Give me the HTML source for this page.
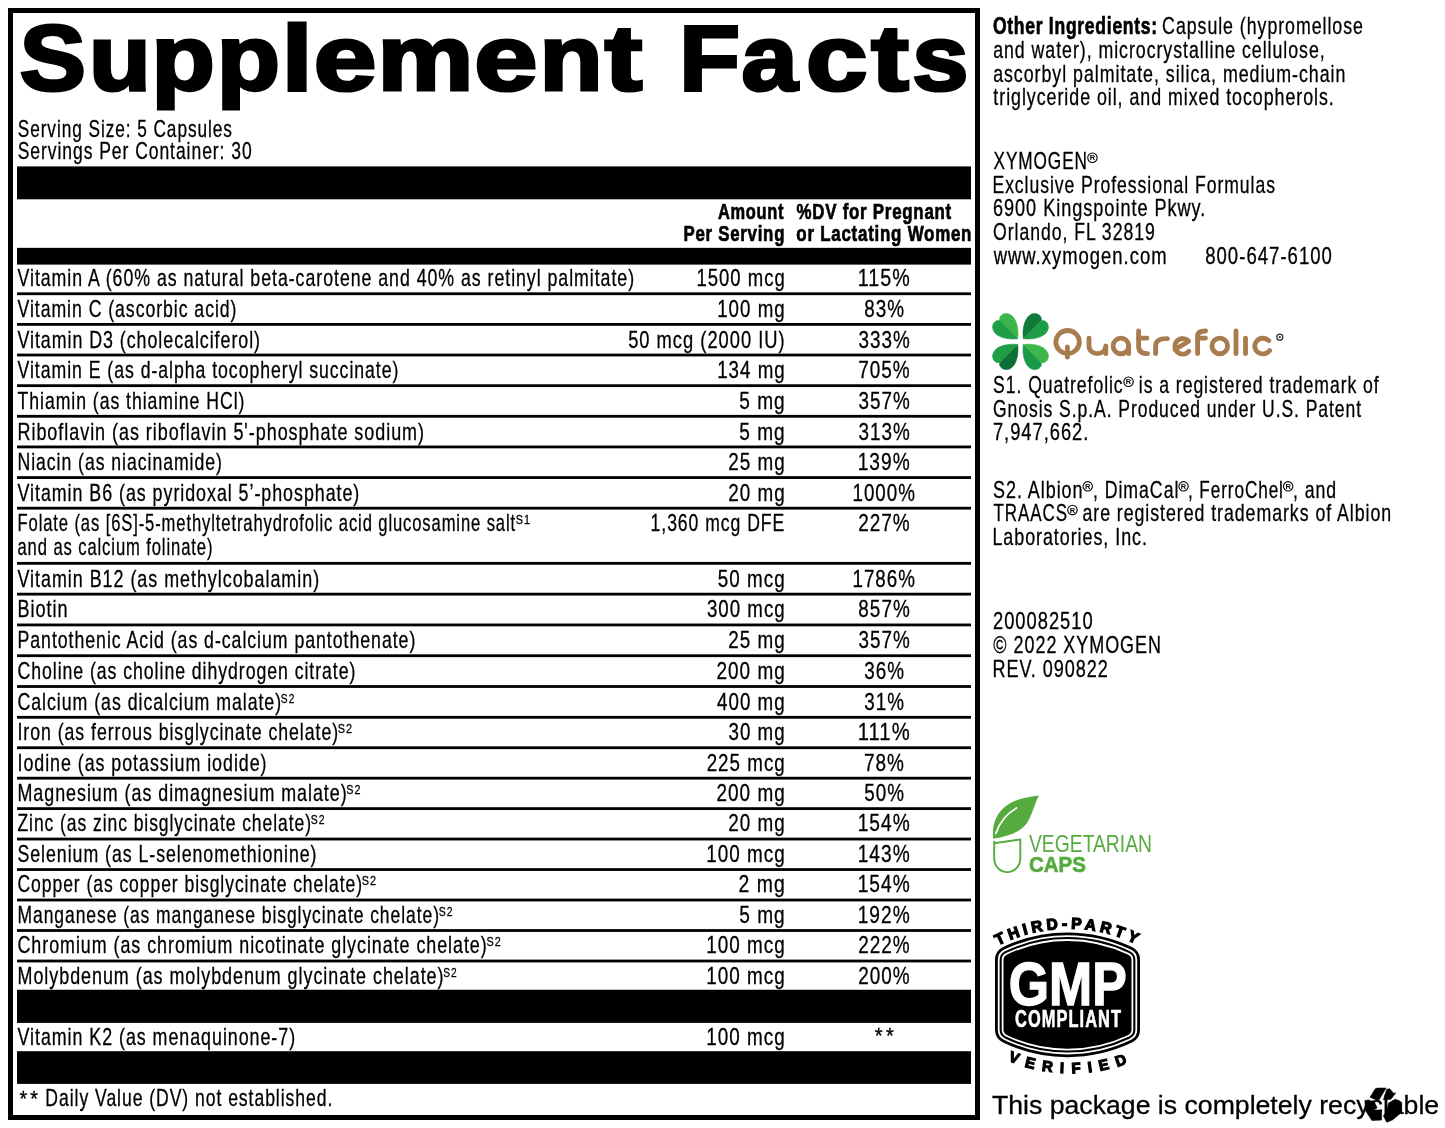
<!DOCTYPE html>
<html><head><meta charset="utf-8"><title>Supplement Facts</title>
<style>
html,body{margin:0;padding:0;background:#fff;}
svg{display:block;will-change:transform;font-family:"Liberation Sans",sans-serif;}
.t{stroke:#000;stroke-width:0.3;}
.b{stroke:#000;stroke-width:0.7;}
</style></head><body>
<svg width="1445" height="1128" viewBox="0 0 1445 1128">
<rect x="0" y="0" width="1445" height="1128" fill="#fff"/>
<rect x="8.00" y="8.00" width="972.00" height="5.00" fill="#000"/>
<rect x="8.00" y="1115.00" width="972.00" height="5.00" fill="#000"/>
<rect x="8.00" y="8.00" width="5.00" height="1112.00" fill="#000"/>
<rect x="975.00" y="8.00" width="5.00" height="1112.00" fill="#000"/>
<text x="19.74" y="89.90" font-size="92" font-weight="bold" textLength="66.13" lengthAdjust="spacingAndGlyphs" fill="#000" stroke="#000" stroke-width="3.2" stroke-linejoin="miter">S</text>
<text x="88.93" y="89.90" font-size="92" font-weight="bold" textLength="61.73" lengthAdjust="spacingAndGlyphs" fill="#000" stroke="#000" stroke-width="3.2" stroke-linejoin="miter">u</text>
<text x="151.47" y="89.90" font-size="92" font-weight="bold" textLength="63.28" lengthAdjust="spacingAndGlyphs" fill="#000" stroke="#000" stroke-width="3.2" stroke-linejoin="miter">p</text>
<text x="216.77" y="89.90" font-size="92" font-weight="bold" textLength="63.28" lengthAdjust="spacingAndGlyphs" fill="#000" stroke="#000" stroke-width="3.2" stroke-linejoin="miter">p</text>
<text x="281.66" y="89.90" font-size="92" font-weight="bold" textLength="30.78" lengthAdjust="spacingAndGlyphs" fill="#000" stroke="#000" stroke-width="3.2" stroke-linejoin="miter">l</text>
<text x="313.80" y="89.90" font-size="92" font-weight="bold" textLength="62.65" lengthAdjust="spacingAndGlyphs" fill="#000" stroke="#000" stroke-width="3.2" stroke-linejoin="miter">e</text>
<text x="377.49" y="89.90" font-size="92" font-weight="bold" textLength="95.90" lengthAdjust="spacingAndGlyphs" fill="#000" stroke="#000" stroke-width="3.2" stroke-linejoin="miter">m</text>
<text x="474.26" y="89.90" font-size="92" font-weight="bold" textLength="63.23" lengthAdjust="spacingAndGlyphs" fill="#000" stroke="#000" stroke-width="3.2" stroke-linejoin="miter">e</text>
<text x="539.49" y="89.90" font-size="92" font-weight="bold" textLength="63.12" lengthAdjust="spacingAndGlyphs" fill="#000" stroke="#000" stroke-width="3.2" stroke-linejoin="miter">n</text>
<text x="604.82" y="89.90" font-size="92" font-weight="bold" textLength="37.55" lengthAdjust="spacingAndGlyphs" fill="#000" stroke="#000" stroke-width="3.2" stroke-linejoin="miter">t</text>
<text x="679.15" y="89.90" font-size="92" font-weight="bold" textLength="60.68" lengthAdjust="spacingAndGlyphs" fill="#000" stroke="#000" stroke-width="3.2" stroke-linejoin="miter">F</text>
<text x="741.64" y="89.90" font-size="92" font-weight="bold" textLength="56.12" lengthAdjust="spacingAndGlyphs" fill="#000" stroke="#000" stroke-width="3.2" stroke-linejoin="miter">a</text>
<text x="805.98" y="89.90" font-size="92" font-weight="bold" textLength="61.45" lengthAdjust="spacingAndGlyphs" fill="#000" stroke="#000" stroke-width="3.2" stroke-linejoin="miter">c</text>
<text x="871.22" y="89.90" font-size="92" font-weight="bold" textLength="37.55" lengthAdjust="spacingAndGlyphs" fill="#000" stroke="#000" stroke-width="3.2" stroke-linejoin="miter">t</text>
<text x="912.35" y="89.90" font-size="92" font-weight="bold" textLength="56.20" lengthAdjust="spacingAndGlyphs" fill="#000" stroke="#000" stroke-width="3.2" stroke-linejoin="miter">s</text>
<text class="t" x="17.72" y="136.60" font-size="24" letter-spacing="1.3" textLength="215.14" lengthAdjust="spacingAndGlyphs" fill="#000">Serving Size: 5 Capsules</text>
<text class="t" x="17.70" y="159.00" font-size="24" letter-spacing="1.3" textLength="234.93" lengthAdjust="spacingAndGlyphs" fill="#000">Servings Per Container: 30</text>
<rect x="17.00" y="166.40" width="954.00" height="32.90" fill="#000"/>
<text class="b" x="717.89" y="218.80" font-size="22.5" font-weight="bold" letter-spacing="1.0" textLength="66.34" lengthAdjust="spacingAndGlyphs" fill="#000">Amount</text>
<text class="b" x="683.47" y="241.30" font-size="22.5" font-weight="bold" letter-spacing="1.0" textLength="101.70" lengthAdjust="spacingAndGlyphs" fill="#000">Per Serving</text>
<text class="b" x="796.58" y="218.80" font-size="22.5" font-weight="bold" letter-spacing="1.0" textLength="155.38" lengthAdjust="spacingAndGlyphs" fill="#000">%DV for Pregnant</text>
<text class="b" x="796.34" y="241.30" font-size="22.5" font-weight="bold" letter-spacing="1.0" textLength="175.86" lengthAdjust="spacingAndGlyphs" fill="#000">or Lactating Women</text>
<rect x="17.00" y="247.85" width="954.00" height="16.75" fill="#000"/>
<text class="t" x="17.50" y="286.45" font-size="24" letter-spacing="1.3" textLength="617.55" lengthAdjust="spacingAndGlyphs" fill="#000">Vitamin A (60% as natural beta-carotene and 40% as retinyl palmitate)</text>
<text class="t" x="696.39" y="286.45" font-size="24" letter-spacing="1.3" textLength="89.31" lengthAdjust="spacingAndGlyphs" fill="#000">1500 mcg</text>
<text class="t" x="857.69" y="286.45" font-size="24" letter-spacing="1.3" textLength="53.08" lengthAdjust="spacingAndGlyphs" fill="#000">115%</text>
<rect x="17.00" y="292.35" width="954.00" height="2.80" fill="#000"/>
<text class="t" x="17.50" y="317.06" font-size="24" letter-spacing="1.3" textLength="219.95" lengthAdjust="spacingAndGlyphs" fill="#000">Vitamin C (ascorbic acid)</text>
<text class="t" x="717.17" y="317.06" font-size="24" letter-spacing="1.3" textLength="68.55" lengthAdjust="spacingAndGlyphs" fill="#000">100 mg</text>
<text class="t" x="864.13" y="317.06" font-size="24" letter-spacing="1.3" textLength="40.81" lengthAdjust="spacingAndGlyphs" fill="#000">83%</text>
<rect x="17.00" y="322.99" width="954.00" height="2.80" fill="#000"/>
<text class="t" x="17.50" y="347.68" font-size="24" letter-spacing="1.3" textLength="243.47" lengthAdjust="spacingAndGlyphs" fill="#000">Vitamin D3 (cholecalciferol)</text>
<text class="t" x="628.17" y="347.68" font-size="24" letter-spacing="1.3" textLength="157.46" lengthAdjust="spacingAndGlyphs" fill="#000">50 mcg (2000 IU)</text>
<text class="t" x="858.43" y="347.68" font-size="24" letter-spacing="1.3" textLength="52.31" lengthAdjust="spacingAndGlyphs" fill="#000">333%</text>
<rect x="17.00" y="353.62" width="954.00" height="2.80" fill="#000"/>
<text class="t" x="17.50" y="378.29" font-size="24" letter-spacing="1.3" textLength="381.85" lengthAdjust="spacingAndGlyphs" fill="#000">Vitamin E (as d-alpha tocopheryl succinate)</text>
<text class="t" x="717.17" y="378.29" font-size="24" letter-spacing="1.3" textLength="68.55" lengthAdjust="spacingAndGlyphs" fill="#000">134 mg</text>
<text class="t" x="858.18" y="378.29" font-size="24" letter-spacing="1.3" textLength="52.57" lengthAdjust="spacingAndGlyphs" fill="#000">705%</text>
<rect x="17.00" y="384.26" width="954.00" height="2.80" fill="#000"/>
<text class="t" x="17.50" y="408.90" font-size="24" letter-spacing="1.3" textLength="227.85" lengthAdjust="spacingAndGlyphs" fill="#000">Thiamin (as thiamine HCl)</text>
<text class="t" x="739.24" y="408.90" font-size="24" letter-spacing="1.3" textLength="46.53" lengthAdjust="spacingAndGlyphs" fill="#000">5 mg</text>
<text class="t" x="858.43" y="408.90" font-size="24" letter-spacing="1.3" textLength="52.31" lengthAdjust="spacingAndGlyphs" fill="#000">357%</text>
<rect x="17.00" y="414.89" width="954.00" height="2.80" fill="#000"/>
<text class="t" x="17.50" y="439.51" font-size="24" letter-spacing="1.3" textLength="407.49" lengthAdjust="spacingAndGlyphs" fill="#000">Riboflavin (as riboflavin 5&#x27;-phosphate sodium)</text>
<text class="t" x="739.24" y="439.51" font-size="24" letter-spacing="1.3" textLength="46.53" lengthAdjust="spacingAndGlyphs" fill="#000">5 mg</text>
<text class="t" x="858.43" y="439.51" font-size="24" letter-spacing="1.3" textLength="52.31" lengthAdjust="spacingAndGlyphs" fill="#000">313%</text>
<rect x="17.00" y="445.53" width="954.00" height="2.80" fill="#000"/>
<text class="t" x="17.50" y="470.13" font-size="24" letter-spacing="1.3" textLength="205.35" lengthAdjust="spacingAndGlyphs" fill="#000">Niacin (as niacinamide)</text>
<text class="t" x="728.25" y="470.13" font-size="24" letter-spacing="1.3" textLength="57.48" lengthAdjust="spacingAndGlyphs" fill="#000">25 mg</text>
<text class="t" x="857.69" y="470.13" font-size="24" letter-spacing="1.3" textLength="53.08" lengthAdjust="spacingAndGlyphs" fill="#000">139%</text>
<rect x="17.00" y="476.16" width="954.00" height="2.80" fill="#000"/>
<text class="t" x="17.50" y="500.74" font-size="24" letter-spacing="1.3" textLength="342.77" lengthAdjust="spacingAndGlyphs" fill="#000">Vitamin B6 (as pyridoxal 5’-phosphate)</text>
<text class="t" x="728.25" y="500.74" font-size="24" letter-spacing="1.3" textLength="57.48" lengthAdjust="spacingAndGlyphs" fill="#000">20 mg</text>
<text class="t" x="852.47" y="500.74" font-size="24" letter-spacing="1.3" textLength="63.51" lengthAdjust="spacingAndGlyphs" fill="#000">1000%</text>
<rect x="17.00" y="506.80" width="954.00" height="2.80" fill="#000"/>
<text class="t" x="17.50" y="530.80" font-size="24" letter-spacing="1.3" textLength="498.52" lengthAdjust="spacingAndGlyphs" fill="#000">Folate (as [6S]-5-methyltetrahydrofolic acid glucosamine salt</text>
<text class="t" x="515.81" y="523.80" font-size="13.2" letter-spacing="1.3" textLength="15.27" lengthAdjust="spacingAndGlyphs" fill="#000">S1</text>
<text class="t" x="17.50" y="555.30" font-size="24" letter-spacing="1.3" textLength="195.83" lengthAdjust="spacingAndGlyphs" fill="#000">and as calcium folinate)</text>
<text class="t" x="650.56" y="530.80" font-size="24" letter-spacing="1.3" textLength="134.65" lengthAdjust="spacingAndGlyphs" fill="#000">1,360 mcg DFE</text>
<text class="t" x="858.20" y="530.80" font-size="24" letter-spacing="1.3" textLength="52.55" lengthAdjust="spacingAndGlyphs" fill="#000">227%</text>
<rect x="17.00" y="561.95" width="954.00" height="2.80" fill="#000"/>
<text class="t" x="17.50" y="586.64" font-size="24" letter-spacing="1.3" textLength="302.58" lengthAdjust="spacingAndGlyphs" fill="#000">Vitamin B12 (as methylcobalamin)</text>
<text class="t" x="717.85" y="586.64" font-size="24" letter-spacing="1.3" textLength="67.89" lengthAdjust="spacingAndGlyphs" fill="#000">50 mcg</text>
<text class="t" x="852.47" y="586.64" font-size="24" letter-spacing="1.3" textLength="63.51" lengthAdjust="spacingAndGlyphs" fill="#000">1786%</text>
<rect x="17.00" y="592.74" width="954.00" height="2.80" fill="#000"/>
<text class="t" x="17.50" y="617.40" font-size="24" letter-spacing="1.3" textLength="51.05" lengthAdjust="spacingAndGlyphs" fill="#000">Biotin</text>
<text class="t" x="706.89" y="617.40" font-size="24" letter-spacing="1.3" textLength="78.83" lengthAdjust="spacingAndGlyphs" fill="#000">300 mcg</text>
<text class="t" x="858.33" y="617.40" font-size="24" letter-spacing="1.3" textLength="52.42" lengthAdjust="spacingAndGlyphs" fill="#000">857%</text>
<rect x="17.00" y="623.53" width="954.00" height="2.80" fill="#000"/>
<text class="t" x="17.50" y="648.17" font-size="24" letter-spacing="1.3" textLength="398.75" lengthAdjust="spacingAndGlyphs" fill="#000">Pantothenic Acid (as d-calcium pantothenate)</text>
<text class="t" x="728.25" y="648.17" font-size="24" letter-spacing="1.3" textLength="57.48" lengthAdjust="spacingAndGlyphs" fill="#000">25 mg</text>
<text class="t" x="858.43" y="648.17" font-size="24" letter-spacing="1.3" textLength="52.31" lengthAdjust="spacingAndGlyphs" fill="#000">357%</text>
<rect x="17.00" y="654.32" width="954.00" height="2.80" fill="#000"/>
<text class="t" x="17.50" y="678.94" font-size="24" letter-spacing="1.3" textLength="338.85" lengthAdjust="spacingAndGlyphs" fill="#000">Choline (as choline dihydrogen citrate)</text>
<text class="t" x="716.45" y="678.94" font-size="24" letter-spacing="1.3" textLength="69.30" lengthAdjust="spacingAndGlyphs" fill="#000">200 mg</text>
<text class="t" x="864.23" y="678.94" font-size="24" letter-spacing="1.3" textLength="40.71" lengthAdjust="spacingAndGlyphs" fill="#000">36%</text>
<rect x="17.00" y="685.11" width="954.00" height="2.80" fill="#000"/>
<text class="t" x="17.50" y="709.70" font-size="24" letter-spacing="1.3" textLength="264.56" lengthAdjust="spacingAndGlyphs" fill="#000">Calcium (as dicalcium malate)</text>
<text class="t" x="280.84" y="702.70" font-size="13.2" letter-spacing="1.3" textLength="14.48" lengthAdjust="spacingAndGlyphs" fill="#000">S2</text>
<text class="t" x="716.97" y="709.70" font-size="24" letter-spacing="1.3" textLength="68.76" lengthAdjust="spacingAndGlyphs" fill="#000">400 mg</text>
<text class="t" x="864.23" y="709.70" font-size="24" letter-spacing="1.3" textLength="40.71" lengthAdjust="spacingAndGlyphs" fill="#000">31%</text>
<rect x="17.00" y="715.90" width="954.00" height="2.80" fill="#000"/>
<text class="t" x="17.50" y="740.12" font-size="24" letter-spacing="1.3" textLength="321.56" lengthAdjust="spacingAndGlyphs" fill="#000">Iron (as ferrous bisglycinate chelate)</text>
<text class="t" x="337.81" y="733.12" font-size="13.2" letter-spacing="1.3" textLength="15.41" lengthAdjust="spacingAndGlyphs" fill="#000">S2</text>
<text class="t" x="728.49" y="740.12" font-size="24" letter-spacing="1.3" textLength="57.24" lengthAdjust="spacingAndGlyphs" fill="#000">30 mg</text>
<text class="t" x="857.69" y="740.12" font-size="24" letter-spacing="1.3" textLength="53.08" lengthAdjust="spacingAndGlyphs" fill="#000">111%</text>
<rect x="17.00" y="746.34" width="954.00" height="2.80" fill="#000"/>
<text class="t" x="17.50" y="770.53" font-size="24" letter-spacing="1.3" textLength="249.97" lengthAdjust="spacingAndGlyphs" fill="#000">Iodine (as potassium iodide)</text>
<text class="t" x="706.66" y="770.53" font-size="24" letter-spacing="1.3" textLength="79.07" lengthAdjust="spacingAndGlyphs" fill="#000">225 mcg</text>
<text class="t" x="863.98" y="770.53" font-size="24" letter-spacing="1.3" textLength="40.97" lengthAdjust="spacingAndGlyphs" fill="#000">78%</text>
<rect x="17.00" y="776.77" width="954.00" height="2.80" fill="#000"/>
<text class="t" x="17.50" y="800.95" font-size="24" letter-spacing="1.3" textLength="330.08" lengthAdjust="spacingAndGlyphs" fill="#000">Magnesium (as dimagnesium malate)</text>
<text class="t" x="346.31" y="793.95" font-size="13.2" letter-spacing="1.3" textLength="15.29" lengthAdjust="spacingAndGlyphs" fill="#000">S2</text>
<text class="t" x="716.45" y="800.95" font-size="24" letter-spacing="1.3" textLength="69.30" lengthAdjust="spacingAndGlyphs" fill="#000">200 mg</text>
<text class="t" x="864.20" y="800.95" font-size="24" letter-spacing="1.3" textLength="40.74" lengthAdjust="spacingAndGlyphs" fill="#000">50%</text>
<rect x="17.00" y="807.21" width="954.00" height="2.80" fill="#000"/>
<text class="t" x="17.50" y="831.36" font-size="24" letter-spacing="1.3" textLength="294.43" lengthAdjust="spacingAndGlyphs" fill="#000">Zinc (as zinc bisglycinate chelate)</text>
<text class="t" x="310.73" y="824.36" font-size="13.2" letter-spacing="1.3" textLength="14.83" lengthAdjust="spacingAndGlyphs" fill="#000">S2</text>
<text class="t" x="728.25" y="831.36" font-size="24" letter-spacing="1.3" textLength="57.48" lengthAdjust="spacingAndGlyphs" fill="#000">20 mg</text>
<text class="t" x="857.69" y="831.36" font-size="24" letter-spacing="1.3" textLength="53.08" lengthAdjust="spacingAndGlyphs" fill="#000">154%</text>
<rect x="17.00" y="837.65" width="954.00" height="2.80" fill="#000"/>
<text class="t" x="17.50" y="861.83" font-size="24" letter-spacing="1.3" textLength="299.96" lengthAdjust="spacingAndGlyphs" fill="#000">Selenium (as L-selenomethionine)</text>
<text class="t" x="706.16" y="861.83" font-size="24" letter-spacing="1.3" textLength="79.58" lengthAdjust="spacingAndGlyphs" fill="#000">100 mcg</text>
<text class="t" x="857.69" y="861.83" font-size="24" letter-spacing="1.3" textLength="53.08" lengthAdjust="spacingAndGlyphs" fill="#000">143%</text>
<rect x="17.00" y="868.14" width="954.00" height="2.80" fill="#000"/>
<text class="t" x="17.50" y="892.29" font-size="24" letter-spacing="1.3" textLength="345.53" lengthAdjust="spacingAndGlyphs" fill="#000">Copper (as copper bisglycinate chelate)</text>
<text class="t" x="361.81" y="885.29" font-size="13.2" letter-spacing="1.3" textLength="15.41" lengthAdjust="spacingAndGlyphs" fill="#000">S2</text>
<text class="t" x="738.42" y="892.29" font-size="24" letter-spacing="1.3" textLength="47.38" lengthAdjust="spacingAndGlyphs" fill="#000">2 mg</text>
<text class="t" x="857.69" y="892.29" font-size="24" letter-spacing="1.3" textLength="53.08" lengthAdjust="spacingAndGlyphs" fill="#000">154%</text>
<rect x="17.00" y="898.62" width="954.00" height="2.80" fill="#000"/>
<text class="t" x="17.50" y="922.76" font-size="24" letter-spacing="1.3" textLength="422.43" lengthAdjust="spacingAndGlyphs" fill="#000">Manganese (as manganese bisglycinate chelate)</text>
<text class="t" x="438.73" y="915.76" font-size="13.2" letter-spacing="1.3" textLength="14.83" lengthAdjust="spacingAndGlyphs" fill="#000">S2</text>
<text class="t" x="739.24" y="922.76" font-size="24" letter-spacing="1.3" textLength="46.53" lengthAdjust="spacingAndGlyphs" fill="#000">5 mg</text>
<text class="t" x="857.69" y="922.76" font-size="24" letter-spacing="1.3" textLength="53.08" lengthAdjust="spacingAndGlyphs" fill="#000">192%</text>
<rect x="17.00" y="929.11" width="954.00" height="2.80" fill="#000"/>
<text class="t" x="17.50" y="953.22" font-size="24" letter-spacing="1.3" textLength="470.17" lengthAdjust="spacingAndGlyphs" fill="#000">Chromium (as chromium nicotinate glycinate chelate)</text>
<text class="t" x="486.41" y="946.22" font-size="13.2" letter-spacing="1.3" textLength="15.41" lengthAdjust="spacingAndGlyphs" fill="#000">S2</text>
<text class="t" x="706.16" y="953.22" font-size="24" letter-spacing="1.3" textLength="79.58" lengthAdjust="spacingAndGlyphs" fill="#000">100 mcg</text>
<text class="t" x="858.20" y="953.22" font-size="24" letter-spacing="1.3" textLength="52.55" lengthAdjust="spacingAndGlyphs" fill="#000">222%</text>
<rect x="17.00" y="959.60" width="954.00" height="2.80" fill="#000"/>
<text class="t" x="17.50" y="983.69" font-size="24" letter-spacing="1.3" textLength="426.98" lengthAdjust="spacingAndGlyphs" fill="#000">Molybdenum (as molybdenum glycinate chelate)</text>
<text class="t" x="443.24" y="976.69" font-size="13.2" letter-spacing="1.3" textLength="14.48" lengthAdjust="spacingAndGlyphs" fill="#000">S2</text>
<text class="t" x="706.16" y="983.69" font-size="24" letter-spacing="1.3" textLength="79.58" lengthAdjust="spacingAndGlyphs" fill="#000">100 mcg</text>
<text class="t" x="858.20" y="983.69" font-size="24" letter-spacing="1.3" textLength="52.55" lengthAdjust="spacingAndGlyphs" fill="#000">200%</text>
<rect x="17.00" y="989.75" width="954.00" height="33.15" fill="#000"/>
<text class="t" x="17.50" y="1044.70" font-size="24" letter-spacing="1.3" textLength="278.57" lengthAdjust="spacingAndGlyphs" fill="#000">Vitamin K2 (as menaquinone-7)</text>
<text class="t" x="706.16" y="1044.70" font-size="24" letter-spacing="1.3" textLength="79.58" lengthAdjust="spacingAndGlyphs" fill="#000">100 mcg</text>
<text class="t" x="874.87" y="1043.20" font-size="22" letter-spacing="3.5" textLength="22.16" lengthAdjust="spacingAndGlyphs" fill="#000">**</text>
<rect x="17.00" y="1051.20" width="954.00" height="32.70" fill="#000"/>
<text class="t" x="19.38" y="1105.80" font-size="22" letter-spacing="3.5" textLength="21.55" lengthAdjust="spacingAndGlyphs" fill="#000">**</text>
<text class="t" x="45.36" y="1105.80" font-size="24" letter-spacing="1.3" textLength="287.98" lengthAdjust="spacingAndGlyphs" fill="#000">Daily Value (DV) not established.</text>
<text class="b" x="992.88" y="34.20" font-size="24" font-weight="bold" letter-spacing="1.0" textLength="165.03" lengthAdjust="spacingAndGlyphs" fill="#000">Other Ingredients:</text>
<text class="t" x="1162.10" y="34.20" font-size="24" letter-spacing="1.3" textLength="201.75" lengthAdjust="spacingAndGlyphs" fill="#000">Capsule (hypromellose</text>
<text class="t" x="993.15" y="58.20" font-size="24" letter-spacing="1.3" textLength="332.51" lengthAdjust="spacingAndGlyphs" fill="#000">and water), microcrystalline cellulose,</text>
<text class="t" x="993.14" y="81.60" font-size="24" letter-spacing="1.3" textLength="353.18" lengthAdjust="spacingAndGlyphs" fill="#000">ascorbyl palmitate, silica, medium-chain</text>
<text class="t" x="993.33" y="105.00" font-size="24" letter-spacing="1.3" textLength="341.46" lengthAdjust="spacingAndGlyphs" fill="#000">triglyceride oil, and mixed tocopherols.</text>
<text class="t" x="993.51" y="169.20" font-size="24" letter-spacing="1.3" textLength="94.42" lengthAdjust="spacingAndGlyphs" fill="#000">XYMOGEN</text>
<circle cx="1092.45" cy="157.75" r="4.70" fill="none" stroke="#000" stroke-width="1.1"/>
<text x="1092.45" y="160.35" font-size="7.5" font-weight="bold" text-anchor="middle" fill="#000">R</text>
<text class="t" x="992.46" y="192.80" font-size="24" letter-spacing="1.3" textLength="283.43" lengthAdjust="spacingAndGlyphs" fill="#000">Exclusive Professional Formulas</text>
<text class="t" x="992.99" y="216.40" font-size="24" letter-spacing="1.3" textLength="213.33" lengthAdjust="spacingAndGlyphs" fill="#000">6900 Kingspointe Pkwy.</text>
<text class="t" x="993.07" y="240.00" font-size="24" letter-spacing="1.3" textLength="162.61" lengthAdjust="spacingAndGlyphs" fill="#000">Orlando, FL 32819</text>
<text class="t" x="993.63" y="263.60" font-size="24" letter-spacing="1.3" textLength="173.88" lengthAdjust="spacingAndGlyphs" fill="#000">www.xymogen.com</text>
<text class="t" x="1205.19" y="263.60" font-size="24" letter-spacing="1.3" textLength="127.74" lengthAdjust="spacingAndGlyphs" fill="#000">800-647-6100</text>
<text class="t" x="993.10" y="393.00" font-size="24" letter-spacing="1.3" textLength="130.51" lengthAdjust="spacingAndGlyphs" fill="#000">S1. Quatrefolic</text>
<circle cx="1128.55" cy="381.75" r="4.70" fill="none" stroke="#000" stroke-width="1.1"/>
<text x="1128.55" y="384.35" font-size="7.5" font-weight="bold" text-anchor="middle" fill="#000">R</text>
<text class="t" x="1138.82" y="393.00" font-size="24" letter-spacing="1.3" textLength="240.80" lengthAdjust="spacingAndGlyphs" fill="#000">is a registered trademark of</text>
<text class="t" x="993.02" y="416.60" font-size="24" letter-spacing="1.3" textLength="369.06" lengthAdjust="spacingAndGlyphs" fill="#000">Gnosis S.p.A. Produced under U.S. Patent</text>
<text class="t" x="992.96" y="440.20" font-size="24" letter-spacing="1.3" textLength="96.40" lengthAdjust="spacingAndGlyphs" fill="#000">7,947,662.</text>
<text class="t" x="993.09" y="497.60" font-size="24" letter-spacing="1.3" textLength="90.42" lengthAdjust="spacingAndGlyphs" fill="#000">S2. Albion</text>
<circle cx="1087.75" cy="486.35" r="4.70" fill="none" stroke="#000" stroke-width="1.1"/>
<text x="1087.75" y="488.95" font-size="7.5" font-weight="bold" text-anchor="middle" fill="#000">R</text>
<text class="t" x="1092.91" y="497.60" font-size="24" letter-spacing="1.3" textLength="86.44" lengthAdjust="spacingAndGlyphs" fill="#000">, DimaCal</text>
<circle cx="1183.55" cy="486.35" r="4.70" fill="none" stroke="#000" stroke-width="1.1"/>
<text x="1183.55" y="488.95" font-size="7.5" font-weight="bold" text-anchor="middle" fill="#000">R</text>
<text class="t" x="1187.96" y="497.60" font-size="24" letter-spacing="1.3" textLength="95.91" lengthAdjust="spacingAndGlyphs" fill="#000">, FerroChel</text>
<circle cx="1288.15" cy="486.35" r="4.70" fill="none" stroke="#000" stroke-width="1.1"/>
<text x="1288.15" y="488.95" font-size="7.5" font-weight="bold" text-anchor="middle" fill="#000">R</text>
<text class="t" x="1292.91" y="497.60" font-size="24" letter-spacing="1.3" textLength="44.19" lengthAdjust="spacingAndGlyphs" fill="#000">, and</text>
<text class="t" x="993.52" y="521.20" font-size="24" letter-spacing="1.3" textLength="74.38" lengthAdjust="spacingAndGlyphs" fill="#000">TRAACS</text>
<circle cx="1072.45" cy="509.95" r="4.70" fill="none" stroke="#000" stroke-width="1.1"/>
<text x="1072.45" y="512.55" font-size="7.5" font-weight="bold" text-anchor="middle" fill="#000">R</text>
<text class="t" x="1082.45" y="521.20" font-size="24" letter-spacing="1.3" textLength="309.66" lengthAdjust="spacingAndGlyphs" fill="#000">are registered trademarks of Albion</text>
<text class="t" x="992.43" y="544.80" font-size="24" letter-spacing="1.3" textLength="155.46" lengthAdjust="spacingAndGlyphs" fill="#000">Laboratories, Inc.</text>
<text class="t" x="992.98" y="629.20" font-size="24" letter-spacing="1.3" textLength="100.73" lengthAdjust="spacingAndGlyphs" fill="#000">200082510</text>
<text class="t" x="993.33" y="653.00" font-size="24" letter-spacing="1.3" textLength="168.61" lengthAdjust="spacingAndGlyphs" fill="#000">© 2022 XYMOGEN</text>
<text class="t" x="992.44" y="676.70" font-size="24" letter-spacing="1.3" textLength="116.42" lengthAdjust="spacingAndGlyphs" fill="#000">REV. 090822</text>
<text class="t" x="992.00" y="1114.00" font-size="26.7" textLength="447.18" lengthAdjust="spacingAndGlyphs" fill="#000">This package is completely recyclable</text>
<g transform=""><path d="M1017.6,338.7 C1019.5,326 1014.5,313.8 1006.6,313.6 C1001.5,313.5 998.6,317.5 999.9,320.8 Z" fill="#3cb54a" stroke="#3cb54a" stroke-width="0.6"/><path d="M999.9,320.8 C996.8,319.2 992.3,322.5 992.6,327.6 C993.2,335.5 1004,340.2 1017.6,338.7 Z" fill="#1f9e45" stroke="#1f9e45" stroke-width="0.6"/></g>
<g transform="translate(2041.0,0) scale(-1,1)"><path d="M1017.6,338.7 C1019.5,326 1014.5,313.8 1006.6,313.6 C1001.5,313.5 998.6,317.5 999.9,320.8 Z" fill="#0f7a3a" stroke="#0f7a3a" stroke-width="0.6"/><path d="M999.9,320.8 C996.8,319.2 992.3,322.5 992.6,327.6 C993.2,335.5 1004,340.2 1017.6,338.7 Z" fill="#1e9e47" stroke="#1e9e47" stroke-width="0.6"/></g>
<g transform="translate(0,683.2) scale(1,-1)"><path d="M1017.6,338.7 C1019.5,326 1014.5,313.8 1006.6,313.6 C1001.5,313.5 998.6,317.5 999.9,320.8 Z" fill="#0e6f36" stroke="#0e6f36" stroke-width="0.6"/><path d="M999.9,320.8 C996.8,319.2 992.3,322.5 992.6,327.6 C993.2,335.5 1004,340.2 1017.6,338.7 Z" fill="#1f9e45" stroke="#1f9e45" stroke-width="0.6"/></g>
<g transform="translate(2041.0,683.2) scale(-1,-1)"><path d="M1017.6,338.7 C1019.5,326 1014.5,313.8 1006.6,313.6 C1001.5,313.5 998.6,317.5 999.9,320.8 Z" fill="#1a9a48" stroke="#1a9a48" stroke-width="0.6"/><path d="M999.9,320.8 C996.8,319.2 992.3,322.5 992.6,327.6 C993.2,335.5 1004,340.2 1017.6,338.7 Z" fill="#3cb54a" stroke="#3cb54a" stroke-width="0.6"/></g>
<path d="M1067.6,342 m-11.8,0 a11.8,11.5 0 1,0 23.6,0 a11.8,11.5 0 1,0 -23.6,0" fill="none" stroke="#a97c4f" stroke-width="4.8" stroke-linecap="round" stroke-linejoin="round"/>
<path d="M1067.4,347 L1067.4,357.2" fill="none" stroke="#a97c4f" stroke-width="4.8" stroke-linecap="round" stroke-linejoin="round"/>
<path d="M1089,338.1 L1089,345.9 A8.4,7.799999999999983 0 0,0 1105.8,345.9 L1105.8,353.7" fill="none" stroke="#a97c4f" stroke-width="4.8" stroke-linecap="round" stroke-linejoin="round"/>
<path d="M1120.9,345.9 m-7.799999999999983,0 a7.799999999999983,7.799999999999983 0 1,0 15.599999999999966,0 a7.799999999999983,7.799999999999983 0 1,0 -15.599999999999966,0" fill="none" stroke="#a97c4f" stroke-width="4.8" stroke-linecap="round" stroke-linejoin="round"/>
<path d="M1128.7,345.9 L1128.7,353.7" fill="none" stroke="#a97c4f" stroke-width="4.8" stroke-linecap="round" stroke-linejoin="round"/>
<path d="M1138.6,330.8 L1138.6,346 Q1138.6,353.7 1147.6,353.7" fill="none" stroke="#a97c4f" stroke-width="4.8" stroke-linecap="round" stroke-linejoin="round"/>
<path d="M1138.6,338.1 L1147,338.1" fill="none" stroke="#a97c4f" stroke-width="4.8" stroke-linecap="round" stroke-linejoin="round"/>
<path d="M1155.6,353.7 L1155.6,346 Q1155.6,338.1 1167.5,338.6" fill="none" stroke="#a97c4f" stroke-width="4.8" stroke-linecap="round" stroke-linejoin="round"/>
<path d="M1175,349.5 L1188.6,341.2 A7.799999999999983,7.799999999999983 0 1,0 1188.8,351.2" fill="none" stroke="#a97c4f" stroke-width="4.8" stroke-linecap="round" stroke-linejoin="round"/>
<path d="M1197.6,353.7 L1197.6,336 Q1197.6,331 1205.6,331" fill="none" stroke="#a97c4f" stroke-width="4.8" stroke-linecap="round" stroke-linejoin="round"/>
<path d="M1197.6,338.1 L1205.5,338.1" fill="none" stroke="#a97c4f" stroke-width="4.8" stroke-linecap="round" stroke-linejoin="round"/>
<path d="M1219.8,345.9 m-7.799999999999983,0 a7.799999999999983,7.799999999999983 0 1,0 15.599999999999966,0 a7.799999999999983,7.799999999999983 0 1,0 -15.599999999999966,0" fill="none" stroke="#a97c4f" stroke-width="4.8" stroke-linecap="round" stroke-linejoin="round"/>
<path d="M1236,330.8 L1236,353.7" fill="none" stroke="#a97c4f" stroke-width="4.8" stroke-linecap="round" stroke-linejoin="round"/>
<path d="M1245.5,338.1 L1245.5,353.7" fill="none" stroke="#a97c4f" stroke-width="4.8" stroke-linecap="round" stroke-linejoin="round"/>
<path d="M1268.8,340.6 A8.199999999999983,7.799999999999983 0 1,0 1269.6,350.6" fill="none" stroke="#a97c4f" stroke-width="4.8" stroke-linecap="round" stroke-linejoin="round"/>
<circle cx="1279.8" cy="337.2" r="3" fill="none" stroke="#333" stroke-width="1.3"/><circle cx="1279.8" cy="337.2" r="1.1" fill="#333"/>
<path d="M993.2,838.8 C991.5,826 996,812 1008,804.5 C1018,798 1030,797 1038.8,795.6 C1035,803 1033,813 1027,823 C1020,832.5 1008,836.5 993.2,838.8 Z" fill="#56ab3e"/>
<path d="M995.8,833.5 C1000,821 1008,813 1016.5,808" fill="none" stroke="#fff" stroke-width="1.7" stroke-linecap="round"/>
<path d="M994.2,843.2 L1020.3,839.5 L1020.3,858.5 A13,13.6 0 0,1 994.2,858.5 Z" fill="none" stroke="#56ab3e" stroke-width="1.9" stroke-linejoin="round"/>
<path d="M994.2,841 L994.2,843.5" stroke="#56ab3e" stroke-width="1.9"/>
<text x="1029" y="851.8" font-size="23.6" textLength="123" lengthAdjust="spacingAndGlyphs" fill="#56ab3e">VEGETARIAN</text>
<text x="1029" y="871.6" font-size="22.5" font-weight="bold" textLength="56.8" lengthAdjust="spacingAndGlyphs" fill="#56ab3e" stroke="#56ab3e" stroke-width="0.7">CAPS</text>
<path d="M995.00,1029.81 L995.00,959.79 Q995.00,950.85 1003.07,947.00 A149.50,149.50 0 0,1 1131.93,947.00 Q1140.00,950.85 1140.00,959.79 L1140.00,1029.81 Q1140.00,1038.75 1131.93,1042.60 A149.50,149.50 0 0,1 1003.07,1042.60 Q995.00,1038.75 995.00,1029.81 Z" fill="#000"/>
<path d="M998.70,1029.81 L998.70,959.79 Q998.70,953.18 1004.66,950.34 A145.80,145.80 0 0,1 1130.34,950.34 Q1136.30,953.18 1136.30,959.79 L1136.30,1029.81 Q1136.30,1036.42 1130.34,1039.26 A145.80,145.80 0 0,1 1004.66,1039.26 Q998.70,1036.42 998.70,1029.81 Z" fill="none" stroke="#fff" stroke-width="1.8"/>
<path d="M1002.60,1029.81 L1002.60,959.79 Q1002.60,955.64 1006.34,953.86 A141.90,141.90 0 0,1 1128.66,953.86 Q1132.40,955.64 1132.40,959.79 L1132.40,1029.81 Q1132.40,1033.96 1128.66,1035.74 A141.90,141.90 0 0,1 1006.34,1035.74 Q1002.60,1033.96 1002.60,1029.81 Z" fill="none" stroke="#fff" stroke-width="1.8"/>
<text x="1067.8" y="1004.6" font-size="62" font-weight="bold" text-anchor="middle" textLength="118" lengthAdjust="spacingAndGlyphs" fill="#fff" stroke="#fff" stroke-width="1.4">GMP</text>
<text x="1068.6" y="1027.2" font-size="23.5" font-weight="bold" text-anchor="middle" letter-spacing="1.5" textLength="107" lengthAdjust="spacingAndGlyphs" fill="#fff" stroke="#fff" stroke-width="0.6">COMPLIANT</text>
<defs><path id="arcTop" d="M958.50,974.30 A155.7,155.7 0 0,1 1178.70,974.30"/><path id="arcBot" d="M965.14,1034.70 A165,165 0 0,0 1177.26,1034.70"/></defs>
<text font-size="15.5" font-weight="bold" fill="#000" stroke="#000" stroke-width="1.3" letter-spacing="3.9"><textPath href="#arcTop" startOffset="50%" text-anchor="middle">THIRD-PARTY</textPath></text>
<text font-size="15" font-weight="bold" fill="#000" stroke="#000" stroke-width="1.2" letter-spacing="7.6"><textPath href="#arcBot" startOffset="50%" text-anchor="middle">VERIFIED</textPath></text>
<g><path d="M1370.05,1097.21 L1375.26,1088.84 L1377.49,1088.09 L1386.05,1088.09 L1378.98,1100.00 L1375.63,1099.63 Z" fill="#000" stroke="#000" stroke-width="0.6" stroke-linejoin="round"/><path d="M1383.45,1099.63 L1386.80,1089.21 L1389.77,1088.84 L1393.49,1093.30 L1395.73,1092.93 L1390.89,1099.26 Z" fill="#000" stroke="#000" stroke-width="0.6" stroke-linejoin="round"/><path d="M1364.84,1100.38 L1373.77,1101.12 L1377.12,1107.82 L1373.77,1110.05 L1381.59,1110.05 L1381.59,1120.10 L1371.91,1120.47 L1365.58,1110.80 Z" fill="#000" stroke="#000" stroke-width="0.6" stroke-linejoin="round"/><path d="M1388.66,1102.98 L1395.36,1099.26 L1401.68,1102.61 L1401.68,1112.28 L1392.75,1119.73 L1386.80,1122.33 L1383.45,1116.01 L1386.80,1110.80 Z" fill="#000" stroke="#000" stroke-width="0.6" stroke-linejoin="round"/></g>
</svg>
</body></html>
